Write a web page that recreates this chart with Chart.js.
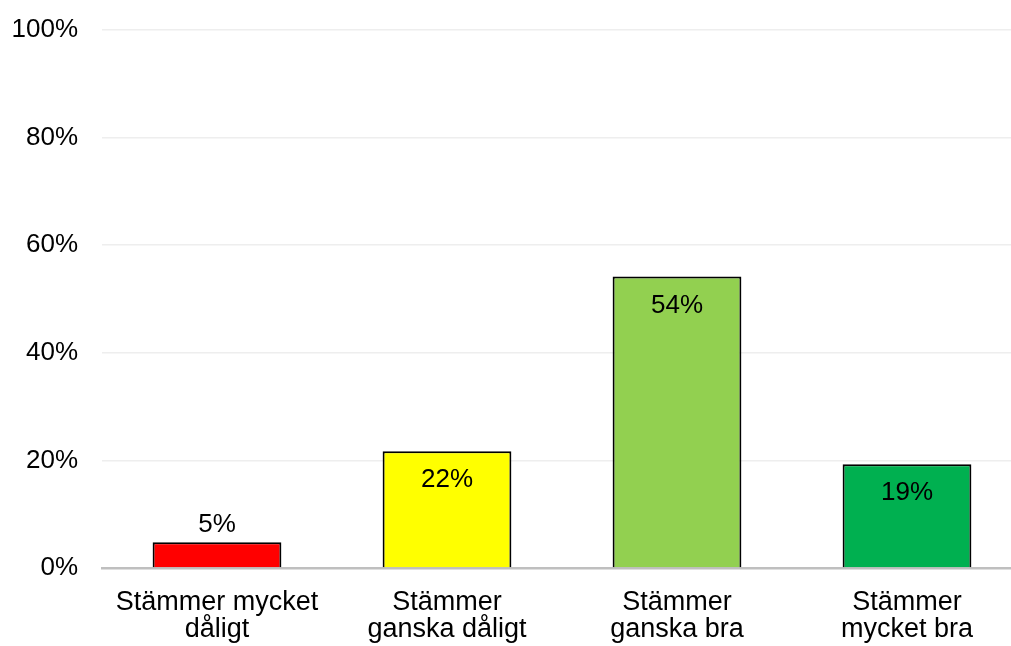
<!DOCTYPE html>
<html>
<head>
<meta charset="utf-8">
<script src="https://cdn.jsdelivr.net/npm/chart.js@4"></script>
<style>
    html, body { margin: 0; padding: 0; background: #ffffff; overflow: hidden; }
    #wrap { width: 1011px; height: 646px; overflow: hidden; }
</style>
</head>
<body>
<div id="wrap"><canvas id="surveyChart" width="1022" height="646"></canvas></div>
<script>
// Data
const categories = [
    ['Stämmer mycket', 'dåligt'],
    ['Stämmer', 'ganska dåligt'],
    ['Stämmer', 'ganska bra'],
    ['Stämmer', 'mycket bra']
];
const shares = [4.8, 21.7, 54.2, 19.3];
const shareLabels = ['5%', '22%', '54%', '19%'];
const barColors = ['#ff0000', '#ffff00', '#92d050', '#00b050'];
const yTicks = [0, 20, 40, 60, 80, 100];

const fontFamily = '"Liberation Sans", Arial, sans-serif';

// Draws the percentage labels on/above each bar
const valueLabels = {
    id: 'valueLabels',
    afterDatasetsDraw(chart) {
        const ctx = chart.ctx;
        const meta = chart.getDatasetMeta(0);
        ctx.save();
        ctx.font = '26px ' + fontFamily;
        ctx.fillStyle = '#000000';
        ctx.textAlign = 'center';
        ctx.textBaseline = 'middle';
        meta.data.forEach((bar, i) => {
            const inside = shares[i] >= 10;
            const y = inside ? bar.y + 29 : bar.y - 17;
            ctx.fillText(shareLabels[i], bar.x, y);
        });
        ctx.restore();
    }
};

new Chart(document.getElementById('surveyChart'), {
    type: 'bar',
    data: {
        labels: categories,
        datasets: [{
            data: shares,
            backgroundColor: barColors,
            borderColor: '#000000',
            borderWidth: 2,
            borderSkipped: 'bottom',
            categoryPercentage: 1,
            barPercentage: 0.56
        }]
    },
    options: {
        responsive: false,
        animation: false,
        layout: {
            padding: { top: 30, right: 0, bottom: 0, left: 0 }
        },
        plugins: {
            legend: { display: false },
            tooltip: { enabled: false }
        },
        scales: {
            y: {
                min: 0,
                max: 100,
                afterFit(scale) {
                    scale.width = 102;
                    scale.paddingTop = 0;
                    scale.paddingBottom = 0;
                },
                afterBuildTicks(scale) {
                    scale.ticks = yTicks.map(v => ({ value: v }));
                },
                grid: {
                    color: '#eeeeee',
                    lineWidth: 1.5,
                    drawTicks: false
                },
                border: { display: false },
                ticks: {
                    padding: 24,
                    color: '#000000',
                    font: { family: fontFamily, size: 26 },
                    callback: (value) => value + '%'
                }
            },
            x: {
                afterFit(scale) { scale.height = 78; },
                grid: { display: false, drawTicks: false },
                border: { display: true, color: '#bfbfbf', width: 2.5 },
                ticks: {
                    padding: 21,
                    maxRotation: 0,
                    color: '#000000',
                    font: { family: fontFamily, size: 27, lineHeight: 1.0 }
                }
            }
        }
    },
    plugins: [valueLabels]
});
</script>
</body>
</html>
